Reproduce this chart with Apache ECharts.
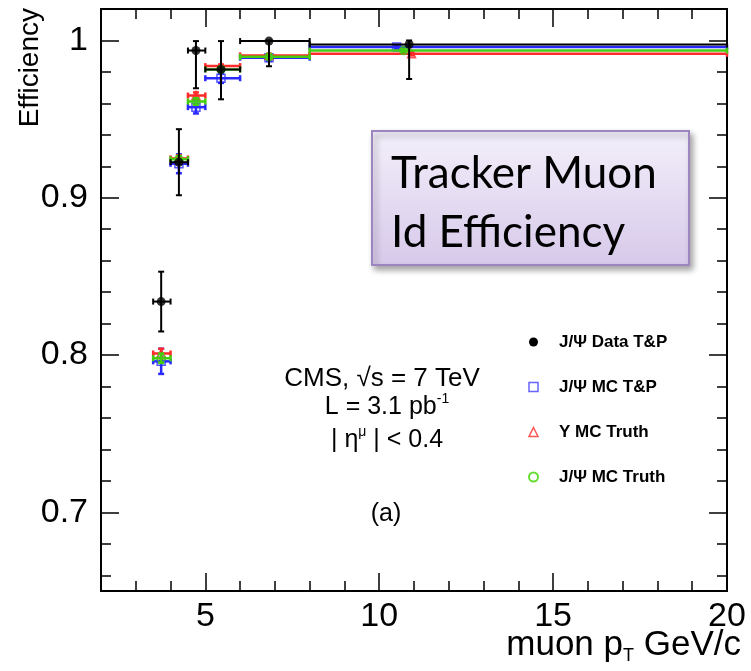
<!DOCTYPE html>
<html>
<head>
<meta charset="utf-8">
<script src="https://cdn.jsdelivr.net/npm/echarts@6/dist/echarts.min.js"></script>
<style>
html,body{margin:0;padding:0;background:#fff;}
#chart{width:751px;height:671px;}
</style>
</head>
<body>
<div id="chart"></div>
<script>
// ---- data ----
const binLow  = [3.5, 4.0, 4.5, 5.0, 6.0, 8.0];
const binHigh = [4.0, 4.5, 5.0, 6.0, 8.0, 20.0];

// J/Psi Data T&P
const dataX     = [3.73, 4.24, 4.73, 5.45, 6.83, 10.86];
const dataY     = [0.834, 0.9226, 0.9936, 0.9816, 0.9996, 0.9975];
const dataErrLo = [0.019, 0.021, 0.024, 0.019, 0.016, 0.022];
const dataErrHi = [0.019, 0.021, 0.006, 0.018, 0.0004, 0.0025];

// J/Psi MC T&P
const mcTPX   = [3.73, 4.24, 4.73, 5.45, 6.83, 10.5];
const mcTPY   = [0.796, 0.9216, 0.9576, 0.976, 0.989, 0.9958];
const mcTPErr = [0.008, 0.006, 0.004, 0.003, 0.002, 0.001];

// Upsilon MC Truth
const upsX   = [3.73, 4.24, 4.73, 5.45, 6.83, 10.93];
const upsY   = [0.801, 0.925, 0.965, 0.9837, 0.9905, 0.9915];
const upsErr = [0.003, 0.002, 0.002, 0.001, 0.001, 0.001];

// J/Psi MC Truth
const truthX   = [3.73, 4.24, 4.73, 5.45, 6.83, 10.7];
const truthY   = [0.798, 0.9245, 0.9612, 0.9816, 0.9896, 0.9936];
const truthErr = [0.003, 0.002, 0.002, 0.001, 0.001, 0.001];

const seriesNames = ['J/\u03A8 Data T&P', 'J/\u03A8 MC T&P', '\u03A5 MC Truth', 'J/\u03A8 MC Truth'];

const xMajorTicks = [5, 10, 15, 20];
const xMinorTicks = [3, 4, 6, 7, 8, 9, 11, 12, 13, 14, 16, 17, 18, 19];
const yMajorTicks = [0.7, 0.8, 0.9, 1.0];
const yMinorTicks = [0.66, 0.68, 0.72, 0.74, 0.76, 0.78, 0.82, 0.84, 0.86, 0.88, 0.92, 0.94, 0.96, 0.98, 1.02];

// ---- build ----
const FONT = '"Liberation Sans", Arial, Helvetica, sans-serif';
const BLACK = '#000000', BLUE = '#2a2aff', RED = '#ff2a2a', GREEN = '#44cc11';

function rows(xs, ys, lo, hi) {
  return xs.map((x, i) => [x, ys[i], binLow[i], binHigh[i], ys[i] - lo[i], ys[i] + hi[i]]);
}
const dataRows  = rows(dataX, dataY, dataErrLo, dataErrHi);
const mcTPRows  = rows(mcTPX, mcTPY, mcTPErr, mcTPErr);
const upsRows   = rows(upsX, upsY, upsErr, upsErr);
const truthRows = rows(truthX, truthY, truthErr, truthErr);

function errRender(color, lw) {
  return function (params, api) {
    const x = api.value(0), y = api.value(1);
    const pL = api.coord([api.value(2), y]);
    const pR = api.coord([api.value(3), y]);
    const pB = api.coord([x, api.value(4)]);
    const pT = api.coord([x, api.value(5)]);
    const c = 3;
    const st = { stroke: color, lineWidth: lw };
    const L = (x1, y1, x2, y2) => ({ type: 'line', shape: { x1, y1, x2, y2 }, style: st, silent: true });
    const ch = [
      L(pL[0], pL[1], pR[0], pR[1]),
      L(pL[0], pL[1] - c, pL[0], pL[1] + c),
      L(pR[0], pR[1] - c, pR[0], pR[1] + c)
    ];
    if (Math.abs(pB[1] - pT[1]) > 2) {
      ch.push(L(pB[0], pB[1], pT[0], pT[1]));
      ch.push(L(pB[0] - c, pB[1], pB[0] + c, pB[1]));
      ch.push(L(pT[0] - c, pT[1], pT[0] + c, pT[1]));
    }
    return { type: 'group', children: ch };
  };
}

function errSeries(name, rowsData, color, lw, z) {
  return {
    name, type: 'custom', renderItem: errRender(color, lw), data: rowsData,
    encode: { x: 0, y: 1 }, z, silent: true, clip: false
  };
}
function markSeries(name, rowsData, symbol, size, style, z) {
  return {
    name, type: 'scatter', data: rowsData.map(r => [r[0], r[1]]),
    symbol, symbolSize: size, itemStyle: style, z, silent: true,
    emphasis: { disabled: true }
  };
}

const axisLineStyle = { show: true, lineStyle: { color: '#000', width: 2 } };
function xAx(pos, ticks, len, labels) {
  return {
    type: 'value', min: 2, max: 20, position: pos, gridIndex: 0,
    axisLine: axisLineStyle,
    axisTick: { show: true, inside: true, length: len, customValues: ticks, lineStyle: { color: '#000', width: 1.5 } },
    axisLabel: labels ? { show: true, customValues: xMajorTicks, fontFamily: FONT, fontSize: 34, color: '#000', margin: 9 } : { show: false },
    splitLine: { show: false }
  };
}
function yAx(pos, ticks, len, labels) {
  return {
    type: 'value', min: 0.65, max: 1.02, position: pos, gridIndex: 0,
    axisLine: axisLineStyle,
    axisTick: { show: true, inside: true, length: len, customValues: ticks, lineStyle: { color: '#000', width: 1.5 } },
    axisLabel: labels ? {
      show: true, customValues: yMajorTicks, fontFamily: FONT, fontSize: 34, color: '#000', margin: 13,
      formatter: v => (Math.abs(v - 1) < 1e-9 ? '1' : v.toFixed(1))
    } : { show: false },
    splitLine: { show: false }
  };
}

const option = {
  backgroundColor: '#ffffff',
  animation: false,
  grid: { left: 101, right: 24, top: 9, bottom: 80, containLabel: false },
  xAxis: [
    xAx('bottom', xMajorTicks, 18, true),
    xAx('bottom', xMinorTicks, 10, false),
    xAx('top', xMajorTicks, 18, false),
    xAx('top', xMinorTicks, 10, false)
  ],
  yAxis: [
    yAx('left', yMajorTicks, 18, true),
    yAx('left', yMinorTicks, 10, false),
    yAx('right', yMajorTicks, 18, false),
    yAx('right', yMinorTicks, 10, false)
  ],
  legend: {
    orient: 'vertical', left: 523, top: 327, itemWidth: 9, itemHeight: 9, itemGap: 25,
    selectedMode: false,
    textStyle: { fontFamily: FONT, fontSize: 17, fontWeight: 'bold', color: '#000', lineHeight: 20, padding: [0, 0, 0, 16] },
    data: [
      { name: seriesNames[0], icon: 'circle', itemStyle: { color: BLACK, borderWidth: 0 } },
      { name: seriesNames[1], icon: 'rect', itemStyle: { color: 'rgba(0,0,0,0)', borderColor: '#6666ff', borderWidth: 1.5 } },
      { name: seriesNames[2], icon: 'triangle', itemStyle: { color: 'rgba(0,0,0,0)', borderColor: '#ff5555', borderWidth: 1.5 } },
      { name: seriesNames[3], icon: 'circle', itemStyle: { color: 'rgba(0,0,0,0)', borderColor: '#66dd33', borderWidth: 2 } }
    ]
  },
  series: [
    errSeries(seriesNames[1], mcTPRows, BLUE, 2.5, 2),
    markSeries(seriesNames[1], mcTPRows, 'rect', 8, { color: 'rgba(0,0,0,0)', borderColor: BLUE, borderWidth: 1.5 }, 3),
    errSeries(seriesNames[2], upsRows, RED, 2.5, 4),
    markSeries(seriesNames[2], upsRows, 'triangle', 8, { color: 'rgba(0,0,0,0)', borderColor: RED, borderWidth: 1.5 }, 5),
    errSeries(seriesNames[3], truthRows, GREEN, 2.5, 6),
    markSeries(seriesNames[3], truthRows, 'circle', 8, { color: 'rgba(0,0,0,0)', borderColor: GREEN, borderWidth: 1.5 }, 7),
    errSeries(seriesNames[0], dataRows, BLACK, 2, 8),
    markSeries(seriesNames[0], dataRows, 'circle', 9, { color: BLACK }, 9)
  ],
  graphic: [
    { type: 'text', x: 30, y: 8, rotation: Math.PI / 2, silent: true,
      style: { text: 'Efficiency', font: '28px ' + FONT, fill: '#000', align: 'right', verticalAlign: 'middle' } },
    { type: 'text', x: 741, y: 645, silent: true,
      style: {
        text: '{a|muon p}{s|T}{a| GeV/c}', align: 'right', verticalAlign: 'middle', fill: '#000',
        rich: {
          a: { fontFamily: FONT, fontSize: 35, lineHeight: 40, fill: '#000' },
          s: { fontFamily: FONT, fontSize: 18, lineHeight: 18, verticalAlign: 'bottom', fill: '#000' }
        }
      } },
    { type: 'text', x: 382, y: 379, silent: true,
      style: { text: 'CMS, \u221As = 7 TeV', font: '26px ' + FONT, fill: '#000', align: 'center', verticalAlign: 'middle' } },
    { type: 'text', x: 387, y: 407, silent: true,
      style: {
        text: '{a|L = 3.1 pb}{s|-1}', align: 'center', verticalAlign: 'middle', fill: '#000',
        rich: {
          a: { fontFamily: FONT, fontSize: 25, lineHeight: 30, fill: '#000' },
          s: { fontFamily: FONT, fontSize: 14, lineHeight: 14, verticalAlign: 'top', fill: '#000' }
        }
      } },
    { type: 'text', x: 387, y: 440, silent: true,
      style: {
        text: '{a|| \u03B7}{s|\u03BC}{a| | < 0.4}', align: 'center', verticalAlign: 'middle', fill: '#000',
        rich: {
          a: { fontFamily: FONT, fontSize: 25, lineHeight: 30, fill: '#000' },
          s: { fontFamily: FONT, fontSize: 14, lineHeight: 14, verticalAlign: 'top', fill: '#000' }
        }
      } },
    { type: 'text', x: 386, y: 514, silent: true,
      style: { text: '(a)', font: '25px ' + FONT, fill: '#000', align: 'center', verticalAlign: 'middle' } },
    { type: 'rect', silent: true, z: 100,
      shape: { x: 372, y: 131, width: 317, height: 134 },
      style: {
        fill: { type: 'linear', x: 0, y: 0, x2: 0, y2: 1, colorStops: [{ offset: 0, color: '#f3effa' }, { offset: 1, color: '#d7c9ea' }] },
        stroke: '#9d86c0', lineWidth: 2,
        shadowBlur: 6, shadowOffsetX: 3, shadowOffsetY: 4, shadowColor: 'rgba(0,0,0,0.35)'
      } },
    { type: 'text', x: 391, y: 174, silent: true, z: 101,
      style: { text: 'Tracker Muon', font: '44px Lato, "Open Sans", sans-serif', fill: '#000', align: 'left', verticalAlign: 'middle' } },
    { type: 'text', x: 391, y: 233, silent: true, z: 101,
      style: { text: 'Id Efficiency', font: '44px Lato, "Open Sans", sans-serif', fill: '#000', align: 'left', verticalAlign: 'middle' } }
  ]
};

const chart = echarts.init(document.getElementById('chart'), null, { renderer: 'canvas' });
chart.setOption(option);
</script>
</body>
</html>
